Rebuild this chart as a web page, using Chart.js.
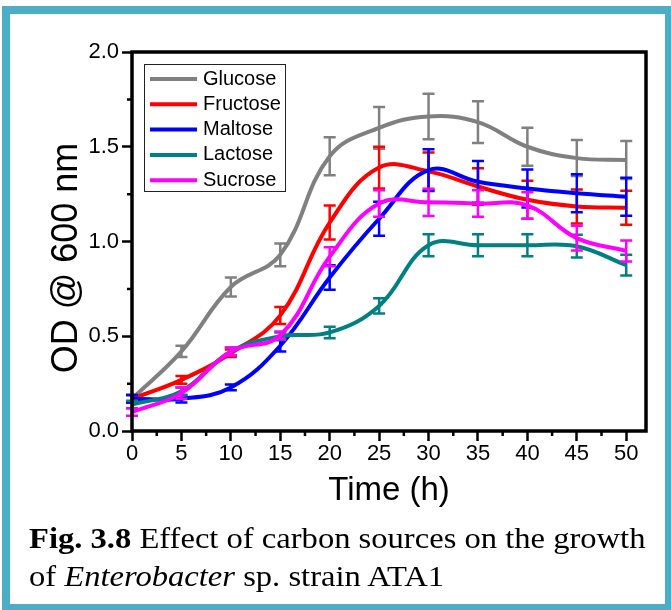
<!DOCTYPE html>
<html>
<head>
<meta charset="utf-8">
<script src="https://cdn.jsdelivr.net/npm/chart.js@4"></script>
<style>
  html, body { margin: 0; padding: 0; background: #fff; }
  #wrap { position: relative; width: 671px; height: 610px; overflow: hidden; }
  #frame { position: absolute; left: 2px; top: 6px; width: 671px; height: 606px; box-sizing: border-box; border: 8px solid #4BADC6; }
  #growth { position: absolute; left: 0; top: 0; }
  #caption { position: absolute; left: 29px; top: 519px; font-family: "Liberation Serif", "Times New Roman", serif; font-size: 30px; line-height: 38px; color: #000; white-space: nowrap; transform: scaleX(1.086); transform-origin: 0 0; }
</style>
</head>
<body>
<div id="wrap">
  <div id="frame"></div>
  <canvas id="growth" width="671" height="520"></canvas>
  <div id="caption"><b>Fig. 3.8</b> Effect of carbon sources on the growth<br>of <i>Enterobacter</i> sp. strain ATA1</div>
</div>
<script>
// time points (h)
const hours = [0, 5, 10, 15, 20, 25, 30, 35, 40, 45, 50];

// OD @ 600 nm
const glucose  = [0.17, 0.42, 0.76, 0.93, 1.45, 1.60, 1.66, 1.63, 1.50, 1.44, 1.43];
const fructose = [0.17, 0.27, 0.41, 0.61, 1.10, 1.39, 1.37, 1.29, 1.22, 1.185, 1.178];
const maltose  = [0.17, 0.17, 0.23, 0.45, 0.81, 1.12, 1.377, 1.315, 1.28, 1.255, 1.236];
const lactose  = [0.14, 0.21, 0.42, 0.50, 0.52, 0.66, 0.98, 0.98, 0.98, 0.975, 0.875];
const sucrose  = [0.10, 0.20, 0.42, 0.505, 0.92, 1.20, 1.207, 1.20, 1.19, 1.018, 0.95];

// error bars (+/-)
const glucoseErr  = [0.02, 0.03, 0.05, 0.06, 0.10, 0.11, 0.12, 0.11, 0.10, 0.095, 0.10];
const fructoseErr = [0.02, 0.02, 0.02, 0.045, 0.09, 0.11, 0.10, 0.096, 0.10, 0.09, 0.09];
const maltoseErr  = [0.02, 0.02, 0.015, 0.03, 0.065, 0.09, 0.11, 0.11, 0.10, 0.10, 0.10];
const lactoseErr  = [0.02, 0.02, 0.02, 0.02, 0.03, 0.04, 0.058, 0.058, 0.058, 0.06, 0.055];
const sucroseErr  = [0.02, 0.03, 0.02, 0.02, 0.05, 0.07, 0.072, 0.07, 0.07, 0.065, 0.055];

const sugarNames = ["Glucose", "Fructose", "Maltose", "Lactose", "Sucrose"];
const yTickStep = 0.5;
const xTickStep = 5;
const yTitle = "OD @ 600 nm";

const colors = {
    glucose: "#808080",
    fructose: "#FF0000",
    maltose: "#0000FF",
    lactose: "#008080",
    sucrose: "#FF00FF"
};

const series = [glucose, fructose, maltose, lactose, sucrose];
const errors = [glucoseErr, fructoseErr, maltoseErr, lactoseErr, sucroseErr];
const lineColors = [colors.glucose, colors.fructose, colors.maltose, colors.lactose, colors.sucrose];

const font = "'Liberation Sans', Arial, sans-serif";

// error bars, drawn right after each line
const errorBars = {
    id: "errorBars",
    afterDatasetDraw(chart, args) {
        const i = args.index;
        const ctx = chart.ctx;
        const xs = chart.scales.x, ys = chart.scales.y;
        ctx.save();
        ctx.strokeStyle = lineColors[i];
        ctx.lineWidth = 2.5;
        hours.forEach((h, k) => {
            const x = xs.getPixelForValue(h);
            const top = ys.getPixelForValue(series[i][k] + errors[i][k]);
            const bot = ys.getPixelForValue(series[i][k] - errors[i][k]);
            ctx.beginPath();
            ctx.moveTo(x, top); ctx.lineTo(x, bot);
            ctx.moveTo(x - 6, top); ctx.lineTo(x + 6, top);
            ctx.moveTo(x - 6, bot); ctx.lineTo(x + 6, bot);
            ctx.stroke();
        });
        ctx.restore();
    }
};

// frame, minor ticks, y title and the boxed legend
const frameAndLegend = {
    id: "frameAndLegend",
    afterDraw(chart) {
        const ctx = chart.ctx;
        const a = chart.chartArea;
        const xs = chart.scales.x, ys = chart.scales.y;
        ctx.save();
        ctx.strokeStyle = "#000";
        ctx.lineWidth = 2.5;
        ctx.beginPath();
        for (let v = yTickStep / 2; v < ys.max; v += yTickStep) {
            const y = ys.getPixelForValue(v);
            ctx.moveTo(a.left, y); ctx.lineTo(a.left - 5, y);
        }
        for (let v = xTickStep / 2; v < xs.max; v += xTickStep) {
            const x = xs.getPixelForValue(v);
            ctx.moveTo(x, a.bottom); ctx.lineTo(x, a.bottom + 5);
        }
        ctx.stroke();

        ctx.lineWidth = 3.5;
        ctx.strokeRect(a.left, a.top, a.right - a.left, a.bottom - a.top);

        // y axis title, sits a bit below the middle like the original
        ctx.save();
        ctx.translate(67, 258);
        ctx.rotate(-Math.PI / 2);
        ctx.font = "36px " + font;
        ctx.textAlign = "center";
        ctx.textBaseline = "middle";
        ctx.fillStyle = "#000";
        ctx.fillText(yTitle, 0, 0);
        ctx.restore();

        // legend box
        const lx = a.left + 12, ly = a.top + 12, lw = 141, lh = 127;
        ctx.lineWidth = 1;
        ctx.strokeStyle = "#222";
        ctx.strokeRect(lx + 0.5, ly + 0.5, lw, lh);
        ctx.font = "20px " + font;
        ctx.textBaseline = "middle";
        ctx.fillStyle = "#000";
        chart.data.datasets.forEach((ds, i) => {
            const y = ly + 15 + i * 25.3;
            ctx.strokeStyle = ds.borderColor;
            ctx.lineWidth = 4;
            ctx.beginPath();
            ctx.moveTo(lx + 6, y); ctx.lineTo(lx + 53, y);
            ctx.stroke();
            ctx.fillText(ds.label, lx + 59, y);
        });
        ctx.restore();
    }
};

new Chart(document.getElementById("growth"), {
    type: "line",
    data: {
        datasets: sugarNames.map((name, i) => ({
            label: name,
            data: hours.map((h, k) => ({ x: h, y: series[i][k] })),
            borderColor: lineColors[i],
            backgroundColor: lineColors[i],
            borderWidth: 4,
            pointRadius: 0,
            tension: 0.4,
            fill: false,
            order: 5 - i
        }))
    },
    options: {
        responsive: false,
        animation: false,
        layout: { padding: { top: 52, right: 25, left: 0, bottom: 0 } },
        plugins: {
            legend: { display: false },
            tooltip: { enabled: false }
        },
        scales: {
            x: {
                type: "linear",
                min: 0,
                max: 52,
                afterFit(scale) { scale.height = 89; },
                border: { display: false },
                grid: { drawOnChartArea: false, drawTicks: true, tickLength: 10, tickWidth: 2.5, tickColor: "#000" },
                ticks: {
                    stepSize: xTickStep,
                    includeBounds: false,
                    autoSkip: false,
                    maxRotation: 0,
                    padding: 2,
                    color: "#000",
                    font: { family: font, size: 22, lineHeight: 1 }
                },
                title: {
                    display: true,
                    text: "Time (h)",
                    color: "#000",
                    padding: { top: 0, bottom: 13 },
                    font: { family: font, size: 33, lineHeight: 1 }
                }
            },
            y: {
                min: 0,
                max: 2,
                afterFit(scale) { scale.width = 132; },
                border: { display: false },
                grid: { drawOnChartArea: false, drawTicks: true, tickLength: 10, tickWidth: 2.5, tickColor: "#000" },
                ticks: {
                    stepSize: yTickStep,
                    padding: 3,
                    color: "#000",
                    font: { family: font, size: 22, lineHeight: 1 },
                    callback: v => v.toFixed(1)
                },
                title: { display: false }
            }
        }
    },
    plugins: [errorBars, frameAndLegend]
});
</script>
</body>
</html>
